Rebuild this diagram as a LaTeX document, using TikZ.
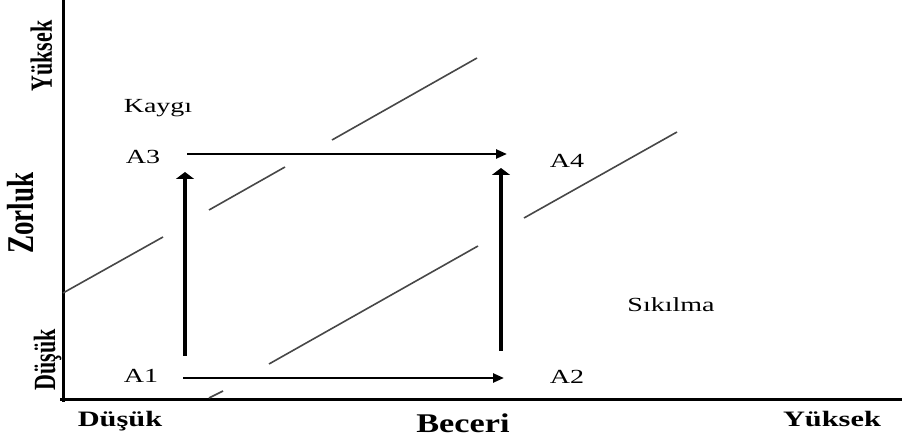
\documentclass[tikz,border=0pt]{standalone}
\usepackage{fontspec}
\setmainfont{Liberation Serif}
\usetikzlibrary{arrows.meta}

\begin{document}
\begin{tikzpicture}[
    x=0.5pt, y=-0.5pt,
    axis/.style={line width=1.5pt},
    zone/.style={line width=0.8pt, draw=black!72},
    flow/.style={-{Triangle[length=5.5pt,width=4.5pt]}, line width=1.2pt},
    rise/.style={-{Triangle[length=3.5pt,width=9pt]}, line width=1.6pt},
    lbl/.style={font=\fontsize{10}{12}\selectfont, inner sep=0pt, anchor=base,
                xscale=1.4, transform shape},
    tick/.style={font=\bfseries\fontsize{11}{13}\selectfont, inner sep=0pt,
                 anchor=base, xscale=1.38, transform shape},
    side/.style={font=\bfseries\fontsize{11}{13}\selectfont, inner sep=0pt,
                 anchor=base, rotate=90, yscale=1.4, transform shape}
]
\useasboundingbox (0,0) rectangle (902,443);
\coordinate (origin) at (63,400);
\coordinate (ytop) at (63,0);
\coordinate (xend) at (902,400);
\draw[axis] (ytop) -- (63,402);
\draw[axis] (60,400) -- (xend);
\draw[zone] (63,293) -- (163,237);
\draw[zone] (209,210) -- (285,167);
\draw[zone] (332,140) -- (477,58);
\draw[zone] (209,398) -- (223,391);
\draw[zone] (269,364) -- (478,246);
\draw[zone] (524,218) -- (677,132);
\node[lbl] (a1) at (141,383) {A1};
\node[lbl] (a2) at (567,384) {A2};
\node[lbl] (a3) at (143,164) {A3};
\node[lbl] (a4) at (567,168) {A4};
\node[lbl] (kaygi) at (158,113) {Kaygı};
\node[lbl] (sikilma) at (671,312) {Sıkılma};
\coordinate (s1) at (183,378);
\coordinate (e1) at (504,378);
\coordinate (s3) at (187,154);
\coordinate (e3) at (507,154);
\coordinate (s13) at (185,356);
\coordinate (e13) at (185,172);
\coordinate (s24) at (501,351);
\coordinate (e24) at (501,168);
\draw[flow] (s1) -- (e1);
\draw[flow] (s3) -- (e3);
\draw[rise] (s13) -- (e13);
\draw[rise] (s24) -- (e24);
\node[tick] (xlow) at (120,427) {Düşük};
\node[tick, font=\bfseries\fontsize{13.5}{16}\selectfont, xscale=0.92] (beceri)
    at (463,433) {Beceri};
\node[tick] (xhigh) at (832,427) {Yüksek};
\node[side] (yhigh) at (52,56) {Yüksek};
\node[side, font=\bfseries\fontsize{13.5}{16}\selectfont] (zorluk) at (33,213) {Zorluk};
\node[side] (ylow) at (55,360) {Düşük};
\end{tikzpicture}
\end{document}
